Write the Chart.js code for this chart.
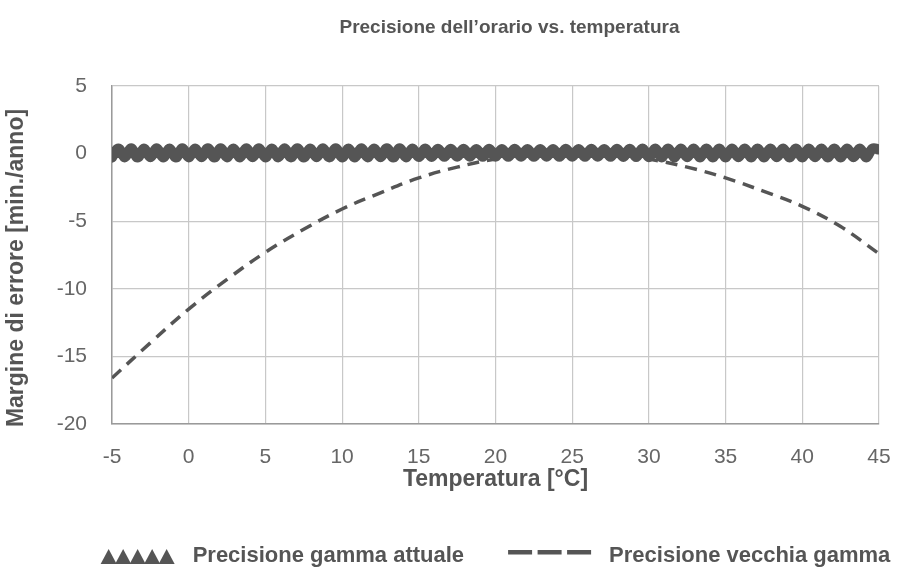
<!DOCTYPE html>
<html>
<head>
<meta charset="utf-8">
<script src="https://cdn.jsdelivr.net/npm/chart.js@4.4.1/dist/chart.umd.min.js"></script>
<style>
  html, body { margin: 0; padding: 0; background: #fff; }
  #wrap { width: 900px; height: 571px; }
</style>
</head>
<body>
<div id="wrap"><canvas id="grafico"></canvas></div>
<script>
// testi
const titolo = 'Precisione dell’orario vs. temperatura'
const titoloX = 'Temperatura [°C]'
const titoloY = 'Margine di errore [min./anno]'

// tick dell'asse x e y
const xTicks = [-5, 0, 5, 10, 15, 20, 25, 30, 35, 40, 45]
const yTicks = [5, 0, -5, -10, -15, -20]

// precisione vecchia gamma (linea tratteggiata), letta ogni 2.5 °C
const tempVecchia = [-5, -2.5, 0, 2.5, 5, 7.5, 10, 12.5, 15, 17.5, 20, 22.5, 25, 27.5, 30, 32.5, 35, 37.5, 40, 42.5, 45]
const errVecchia = [-16.6, -14.0, -11.5, -9.3, -7.3, -5.6, -4.1, -2.9, -1.8, -1.0, -0.4, -0.05, 0.1, 0.05, -0.4, -1.0, -1.8, -2.8, -3.9, -5.4, -7.4]

// precisione gamma attuale (linea ondulata), un punto ogni 5/12 °C
const errAttuale = [
  -0.30, 0.38, -0.28, 0.39, -0.29, 0.38, -0.27, 0.40, -0.28, 0.38, -0.29, 0.39,
  -0.28, 0.38, -0.27, 0.40, -0.29, 0.39, -0.28, 0.38, -0.28, 0.40, -0.27, 0.39,
  -0.29, 0.38, -0.28, 0.39, -0.28, 0.40, -0.29, 0.38, -0.27, 0.39, -0.28, 0.40,
  -0.28, 0.38, -0.29, 0.39, -0.28, 0.38, -0.27, 0.40, -0.29, 0.39, -0.28, 0.38,
  -0.26, 0.37, -0.25, 0.36, -0.24, 0.35, -0.23, 0.35, -0.23, 0.34, -0.24, 0.35,
  -0.23, 0.34, -0.24, 0.35, -0.23, 0.34, -0.24, 0.34, -0.23, 0.34, -0.24, 0.35,
  -0.23, 0.34, -0.24, 0.35, -0.23, 0.34, -0.24, 0.35, -0.25, 0.36, -0.26, 0.37,
  -0.27, 0.37, -0.28, 0.38, -0.28, 0.37, -0.27, 0.38, -0.28, 0.37, -0.28, 0.38,
  -0.28, 0.37, -0.27, 0.38, -0.28, 0.37, -0.28, 0.38, -0.27, 0.37, -0.28, 0.38,
  -0.28, 0.37, -0.27, 0.38, -0.28, 0.37, -0.28, 0.38, -0.27, 0.37, -0.28, 0.38,
  0.30
]

const grigio = '#555555'
const font = "'Liberation Sans', Arial, sans-serif"

// titolo, titolo asse y e legenda disegnati a mano
const testi = {
  id: 'testi',
  afterDraw(chart) {
    const ctx = chart.ctx
    const area = chart.chartArea
    const cx = (area.left + area.right) / 2
    ctx.save()
    ctx.fillStyle = grigio
    ctx.textBaseline = 'middle'

    ctx.font = "bold 19px " + font
    ctx.textAlign = 'center'
    ctx.fillText(titolo, cx + 14, 28)

    ctx.save()
    ctx.translate(17, 268)
    ctx.rotate(-Math.PI / 2)
    ctx.font = "bold 23px " + font
    ctx.fillText(titoloY, 0, 0)
    ctx.restore()

    // legenda
    ctx.font = "bold 22px " + font
    ctx.textAlign = 'left'
    const t1 = chart.data.datasets[0].label
    const t2 = chart.data.datasets[1].label
    const w1 = ctx.measureText(t1).width
    const w2 = ctx.measureText(t2).width
    const tot = 75 + 17 + w1 + 44 + 83 + 18 + w2
    let x = cx - tot / 2
    const y = 556
    for (let i = 0; i < 5; i++) {
      const x0 = x + i * 14.5
      ctx.beginPath()
      ctx.moveTo(x0, y + 8)
      ctx.lineTo(x0 + 8, y - 7)
      ctx.lineTo(x0 + 16, y + 8)
      ctx.closePath()
      ctx.fill()
    }
    x += 75 + 17
    ctx.fillText(t1, x, y)
    x += w1 + 44
    for (let i = 0; i < 3; i++) ctx.fillRect(x + i * 29.5, y - 6, 24, 4.5)
    x += 83 + 18
    ctx.fillText(t2, x, y)
    ctx.restore()
  }
}

window.addEventListener('load', () => {
  const datiAttuale = errAttuale.map((v, i) => ({ x: -5 + i * 5 / 12, y: v }))
  const datiVecchia = tempVecchia.map((t, i) => ({ x: t, y: errVecchia[i] }))

  new Chart(document.getElementById('grafico'), {
    type: 'line',
    data: {
      datasets: [{
        label: 'Precisione gamma attuale',
        data: datiAttuale,
        borderColor: grigio,
        backgroundColor: grigio,
        borderWidth: 10,
        borderCapStyle: 'round',
        borderJoinStyle: 'round',
        tension: 0.4,
        pointRadius: 0,
        order: 1
      }, {
        label: 'Precisione vecchia gamma',
        data: datiVecchia,
        borderColor: grigio,
        backgroundColor: grigio,
        borderWidth: 3.5,
        borderDash: [12, 8],
        tension: 0.4,
        pointRadius: 0,
        order: 2
      }]
    },
    options: {
      responsive: true,
      maintainAspectRatio: false,
      animation: false,
      layout: { padding: { left: 0, right: 21, top: 86, bottom: 70 } },
      plugins: {
        title: { display: false },
        legend: { display: false },
        tooltip: { enabled: false }
      },
      scales: {
        x: {
          type: 'linear',
          min: -5,
          max: 45,
          afterBuildTicks: (s) => { s.ticks = xTicks.map(v => ({ value: v })) },
          afterFit: (s) => { s.height = 77; s.paddingLeft = 0; s.paddingRight = 0 },
          grid: { color: '#c8c8c8', lineWidth: 1.2, drawTicks: false },
          border: { color: '#9a9a9a', width: 1.5 },
          ticks: { color: '#666', padding: 23, font: { family: font, size: 21, lineHeight: 1 } },
          title: {
            display: true,
            text: titoloX,
            color: grigio,
            font: { family: font, size: 23, weight: 'bold', lineHeight: 1 },
            padding: { top: 0, bottom: 10 }
          }
        },
        y: {
          min: -20,
          max: 5,
          afterBuildTicks: (s) => { s.ticks = yTicks.map(v => ({ value: v })) },
          afterFit: (s) => { s.width = 112; s.paddingTop = 0; s.paddingBottom = 0 },
          grid: { color: '#c8c8c8', lineWidth: 1.2, drawTicks: false },
          border: { color: '#9a9a9a', width: 1.5 },
          ticks: { color: '#666', padding: 25, font: { family: font, size: 21, lineHeight: 1 } }
        }
      }
    },
    plugins: [testi]
  })
})
</script>
</body>
</html>
